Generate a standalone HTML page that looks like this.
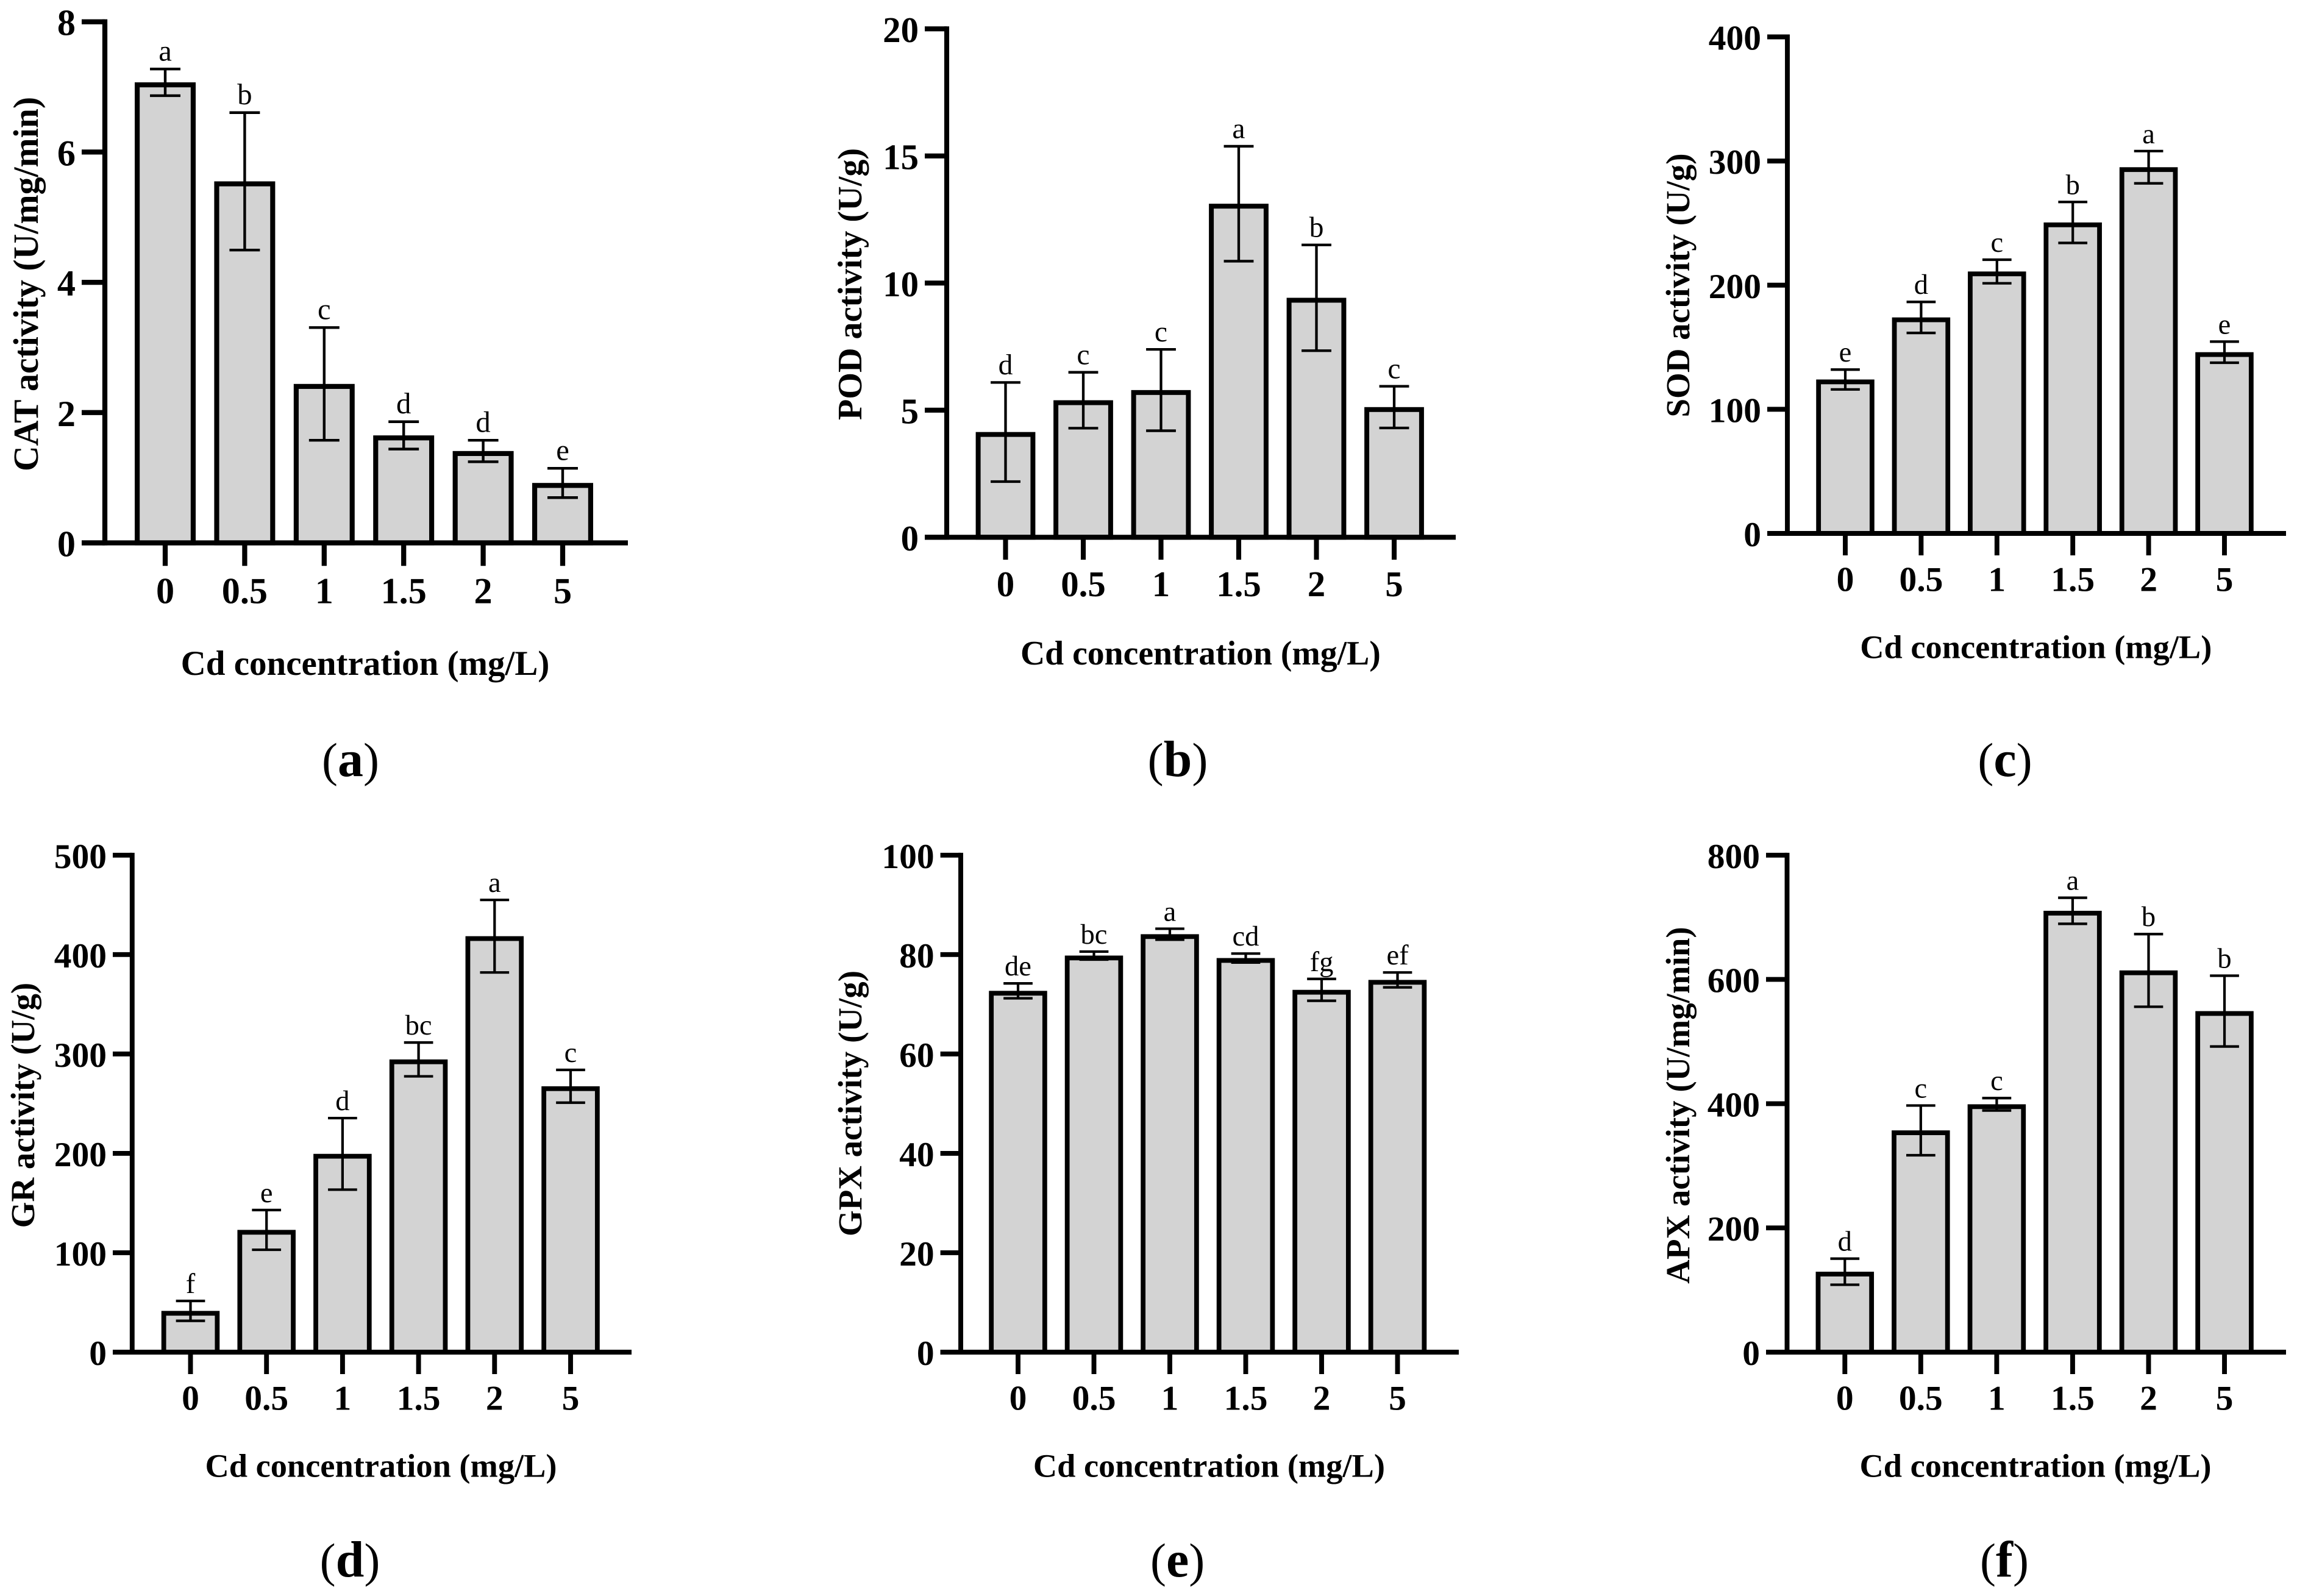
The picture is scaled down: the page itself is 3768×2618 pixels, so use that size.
<!DOCTYPE html>
<html lang="en">
<head>
<meta charset="utf-8">
<title>Antioxidant enzyme activity under Cd concentration</title>
<style>
html,body{margin:0;padding:0;background:#fff;width:3768px;height:2618px;overflow:hidden}
svg{display:block}
text{font-family:"Liberation Serif",serif;fill:#000}
.title{font-weight:700;text-anchor:middle}
.cap{font-size:78px;text-anchor:middle}
.cap .b{font-weight:700;font-size:84px}
</style>
</head>
<body>
<svg id="figure" xmlns="http://www.w3.org/2000/svg" width="3768" height="2618" viewBox="0 0 3768 2618">
<rect width="3768" height="2618" fill="#fff"/>

<g id="panel-a">
<text class="title" font-size="57.8" transform="translate(62,466) rotate(-90)">CAT activity (U/mg/min)</text>
<text class="title" font-size="57" x="599" y="1107">Cd concentration (mg/L)</text>
<text class="cap" x="575" y="1273">(<tspan class="b">a</tspan>)</text>
</g>
<g id="panel-b">
<text class="title" font-size="56.2" transform="translate(1413,466) rotate(-90)">POD activity (U/g)</text>
<text class="title" font-size="55.7" x="1969.4" y="1090">Cd concentration (mg/L)</text>
<text class="cap" x="1932" y="1273">(<tspan class="b">b</tspan>)</text>
</g>
<g id="panel-c">
<text class="title" font-size="54.9" transform="translate(2771,468) rotate(-90)">SOD activity (U/g)</text>
<text class="title" font-size="54.4" x="3339.8" y="1079.5">Cd concentration (mg/L)</text>
<text class="cap" x="3289" y="1273">(<tspan class="b">c</tspan>)</text>
</g>
<g id="panel-d">
<text class="title" font-size="54.9" transform="translate(56,1813) rotate(-90)">GR activity (U/g)</text>
<text class="title" font-size="54.4" x="625" y="2422.6">Cd concentration (mg/L)</text>
<text class="cap" x="574" y="2586">(<tspan class="b">d</tspan>)</text>
</g>
<g id="panel-e">
<text class="title" font-size="54.9" transform="translate(1413,1810) rotate(-90)">GPX activity (U/g)</text>
<text class="title" font-size="54.4" x="1983.4" y="2422.6">Cd concentration (mg/L)</text>
<text class="cap" x="1931.6" y="2586">(<tspan class="b">e</tspan>)</text>
</g>
<g id="panel-f">
<text class="title" font-size="54.9" transform="translate(2771,1813) rotate(-90)">APX activity (U/mg/min)</text>
<text class="title" font-size="54.4" x="3339" y="2422.6">Cd concentration (mg/L)</text>
<text class="cap" x="3288" y="2586">(<tspan class="b">f</tspan>)</text>
</g>
</svg>

<script>
// Shared categories
const categories = ["0", "0.5", "1", "1.5", "2", "5"];

// Panel (a) CAT
const catValues = [7.07, 5.55, 2.44, 1.65, 1.41, 0.92];
const catErrors = [0.205, 1.055, 0.865, 0.21, 0.165, 0.225];
const catLetters = ["a", "b", "c", "d", "d", "e"];
const catTicks = [0, 2, 4, 6, 8];

// Panel (b) POD
const podValues = [4.14, 5.39, 5.79, 13.12, 9.42, 5.12];
const podErrors = [1.95, 1.10, 1.60, 2.26, 2.08, 0.82];
const podLetters = ["d", "c", "c", "a", "b", "c"];
const podTicks = [0, 5, 10, 15, 20];

// Panel (c) SOD
const sodValues = [124, 174, 211, 250.5, 295, 146];
const sodErrors = [8, 12.5, 9.5, 16.5, 13, 8.5];
const sodLetters = ["e", "d", "c", "b", "a", "e"];
const sodTicks = [0, 100, 200, 300, 400];

// Panel (d) GR
const grValues = [41.5, 123, 199.5, 294.5, 418.5, 267.5];
const grErrors = [10, 20, 36, 17, 36.5, 16.5];
const grLetters = ["f", "e", "d", "bc", "a", "c"];
const grTicks = [0, 100, 200, 300, 400, 500];

// Panel (e) GPX
const gpxValues = [72.7, 79.8, 84.1, 79.3, 72.9, 74.9];
const gpxErrors = [1.5, 0.8, 1.1, 0.9, 2.2, 1.5];
const gpxLetters = ["de", "bc", "a", "cd", "fg", "ef"];
const gpxTicks = [0, 20, 40, 60, 80, 100];

// Panel (f) APX
const apxValues = [129.5, 357, 399, 710.5, 614.5, 549];
const apxErrors = [21, 40, 10, 21, 58.5, 57];
const apxLetters = ["d", "c", "c", "a", "b", "b"];
const apxTicks = [0, 200, 400, 600, 800];

const NS = "http://www.w3.org/2000/svg";

function make(tag, parent, attrs, content) {
  const el = document.createElementNS(NS, tag);
  for (const k in attrs) el.setAttribute(k, attrs[k]);
  if (content !== undefined) el.textContent = content;
  parent.appendChild(el);
  return el;
}

function drawPanel(id, layout, values, errors, letters, ticks) {
  const g = document.getElementById(id);
  const s = layout.scale;
  const yMax = ticks[ticks.length - 1];
  const y = v => layout.zero - v * (layout.zero - layout.top) / yMax;
  const x = i => layout.x0 + i * layout.step;
  const barW = 95.5 * s, barStroke = 7.8 * s, capW = 47.7 * s, errStroke = 4.2 * s, axisW = 7.9 * s;

  values.forEach((v, i) => {
    const cx = x(i), top = y(v);
    const bar = make("rect", g, {
      x: cx - barW / 2 + barStroke / 2,
      y: top + barStroke / 2,
      width: barW - barStroke,
      height: layout.zero - top - barStroke / 2,
      fill: "#d3d3d3", stroke: "#000", "stroke-width": barStroke
    });
    
    

    const hi = y(v + errors[i]), lo = y(v - errors[i]);
    const stem = make("line", g, { x1: cx, x2: cx, y1: hi, y2: lo, stroke: "#000", "stroke-width": errStroke });
    
    
    const capHi = make("line", g, { x1: cx - capW / 2, x2: cx + capW / 2, y1: hi, y2: hi, stroke: "#000", "stroke-width": errStroke });
    
    
    const capLo = make("line", g, { x1: cx - capW / 2, x2: cx + capW / 2, y1: lo, y2: lo, stroke: "#000", "stroke-width": errStroke });
    
    

    const letter = make("text", g, { x: cx, y: hi - 13 * s, "text-anchor": "middle", "font-size": 46.5 * s }, letters[i]);
    
    

    const xt = make("line", g, { x1: cx, x2: cx, y1: layout.zero, y2: layout.zero + 36 * s, stroke: "#000", "stroke-width": axisW });
    
    
    const xl = make("text", g, { x: cx, y: layout.zero + 94.5 * s, "text-anchor": "middle", "font-size": 57.5 * s, "font-weight": 700 }, categories[i]);
    
    
  });

  ticks.forEach(t => {
    const ty = y(t);
    const tick = make("line", g, { x1: layout.tickLeft, x2: layout.axisX, y1: ty, y2: ty, stroke: "#000", "stroke-width": axisW });
    
    
    const label = make("text", g, { x: layout.tickLeft - 10, y: ty + 21 * s, "text-anchor": "end", "font-size": 57.5 * s, "font-weight": 700 }, String(t));
    
    
  });

  const yAxis = make("line", g, { x1: layout.axisX, x2: layout.axisX, y1: layout.top - axisW / 2, y2: layout.zero + axisW / 2, stroke: "#000", "stroke-width": axisW });
  
  
  const xAxis = make("line", g, { x1: layout.tickLeft, x2: layout.right, y1: layout.zero, y2: layout.zero, stroke: "#000", "stroke-width": axisW });
  
  
}

drawPanel("panel-a", { axisX: 172, top: 35.7, zero: 890.5, tickLeft: 134, right: 1030, x0: 271, step: 130.4, scale: 1.047 }, catValues, catErrors, catLetters, catTicks);
drawPanel("panel-b", { axisX: 1553, top: 47.3, zero: 881.3, tickLeft: 1517, right: 2388, x0: 1649.5, step: 127.5, scale: 1.024 }, podValues, podErrors, podLetters, podTicks);
drawPanel("panel-c", { axisX: 2932, top: 60.5, zero: 875, tickLeft: 2899, right: 3750, x0: 3027, step: 124.4, scale: 1 }, sodValues, sodErrors, sodLetters, sodTicks);
drawPanel("panel-d", { axisX: 216.8, top: 1402.8, zero: 2218, tickLeft: 185, right: 1036, x0: 312.5, step: 124.7, scale: 1 }, grValues, grErrors, grLetters, grTicks);
drawPanel("panel-e", { axisX: 1576, top: 1402.8, zero: 2218, tickLeft: 1542.6, right: 2393, x0: 1670, step: 124.5, scale: 1 }, gpxValues, gpxErrors, gpxLetters, gpxTicks);
drawPanel("panel-f", { axisX: 2931.5, top: 1402.8, zero: 2218, tickLeft: 2897, right: 3750, x0: 3026.3, step: 124.55, scale: 1 }, apxValues, apxErrors, apxLetters, apxTicks);
</script>
</body>
</html>
